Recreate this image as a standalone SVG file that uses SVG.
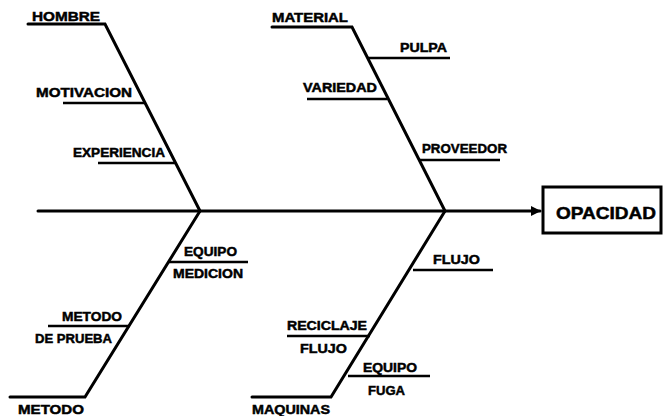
<svg xmlns="http://www.w3.org/2000/svg" width="669" height="416" viewBox="0 0 669 416">
<style>
.t{font-family:"Liberation Sans",Arial,sans-serif;font-weight:bold;font-size:13.5px;fill:#000;stroke:#000;stroke-width:0.5}
.b{stroke:#000;stroke-width:3;fill:none;stroke-linecap:round}
.s{stroke:#000;stroke-width:2.5;fill:none}
</style>
<defs>
<marker id="ah" markerWidth="10" markerHeight="10" refX="9" refY="5" orient="auto" markerUnits="userSpaceOnUse"><path d="M0,0 L10,5 L0,10 Z" fill="#000"/></marker>
</defs>
<rect width="669" height="416" fill="#fff"/>
<g id="connectors">
<line class="b" x1="38" y1="211" x2="540" y2="211" marker-end="url(#ah)"/>
<polyline class="b" points="28,24 105,24 200,211"/>
<polyline class="b" points="272,27 352,27 445,211"/>
<polyline class="b" points="10,397 85,397 200,211"/>
<polyline class="b" points="252,397 331,397 445,211"/>
<line class="s" x1="63" y1="103" x2="145" y2="103"/>
<line class="s" x1="98" y1="163" x2="175" y2="163"/>
<line class="s" x1="367" y1="58" x2="450" y2="58"/>
<line class="s" x1="307" y1="99" x2="387" y2="99"/>
<line class="s" x1="419" y1="160" x2="500" y2="160"/>
<line class="s" x1="169" y1="262" x2="248" y2="262"/>
<line class="s" x1="48" y1="326" x2="130" y2="326"/>
<line class="s" x1="413" y1="270" x2="493" y2="270"/>
<line class="s" x1="287" y1="336" x2="370" y2="336"/>
<line class="s" x1="348" y1="376" x2="430" y2="376"/>
</g>
<g id="n-hombre"><text class="t" x="32" y="21" textLength="68" lengthAdjust="spacingAndGlyphs">HOMBRE</text></g>
<g id="n-motivacion"><text class="t" x="36" y="97" textLength="96" lengthAdjust="spacingAndGlyphs">MOTIVACION</text></g>
<g id="n-experiencia"><text class="t" x="73" y="157" textLength="92" lengthAdjust="spacingAndGlyphs">EXPERIENCIA</text></g>
<g id="n-material"><text class="t" x="272" y="22" textLength="76" lengthAdjust="spacingAndGlyphs">MATERIAL</text></g>
<g id="n-pulpa"><text class="t" x="400" y="52" textLength="47" lengthAdjust="spacingAndGlyphs">PULPA</text></g>
<g id="n-variedad"><text class="t" x="303" y="92" textLength="74" lengthAdjust="spacingAndGlyphs">VARIEDAD</text></g>
<g id="n-proveedor"><text class="t" x="422" y="153" textLength="85" lengthAdjust="spacingAndGlyphs">PROVEEDOR</text></g>
<g id="n-equipo-medicion"><text class="t" x="184" y="256" textLength="53" lengthAdjust="spacingAndGlyphs">EQUIPO</text><text class="t" x="173" y="278" textLength="70" lengthAdjust="spacingAndGlyphs">MEDICION</text></g>
<g id="n-metodo-prueba"><text class="t" x="62" y="321" textLength="60" lengthAdjust="spacingAndGlyphs">METODO</text><text class="t" x="35" y="343" textLength="77" lengthAdjust="spacingAndGlyphs">DE PRUEBA</text></g>
<g id="n-metodo"><text class="t" x="18" y="414" textLength="66" lengthAdjust="spacingAndGlyphs">METODO</text></g>
<g id="n-flujo"><text class="t" x="433" y="264" textLength="47" lengthAdjust="spacingAndGlyphs">FLUJO</text></g>
<g id="n-reciclaje"><text class="t" x="287" y="330" textLength="80" lengthAdjust="spacingAndGlyphs">RECICLAJE</text><text class="t" x="300" y="353" textLength="47" lengthAdjust="spacingAndGlyphs">FLUJO</text></g>
<g id="n-equipo-fuga"><text class="t" x="363" y="372" textLength="54" lengthAdjust="spacingAndGlyphs">EQUIPO</text><text class="t" x="368" y="395" textLength="37" lengthAdjust="spacingAndGlyphs">FUGA</text></g>
<g id="n-maquinas"><text class="t" x="252" y="414" textLength="78" lengthAdjust="spacingAndGlyphs">MAQUINAS</text></g>
<g id="n-opacidad"><rect x="543" y="187" width="118" height="46" fill="#fff" stroke="#000" stroke-width="3"/><text class="t" x="556" y="219" textLength="100" lengthAdjust="spacingAndGlyphs" style="font-size:17px">OPACIDAD</text></g>
</svg>
